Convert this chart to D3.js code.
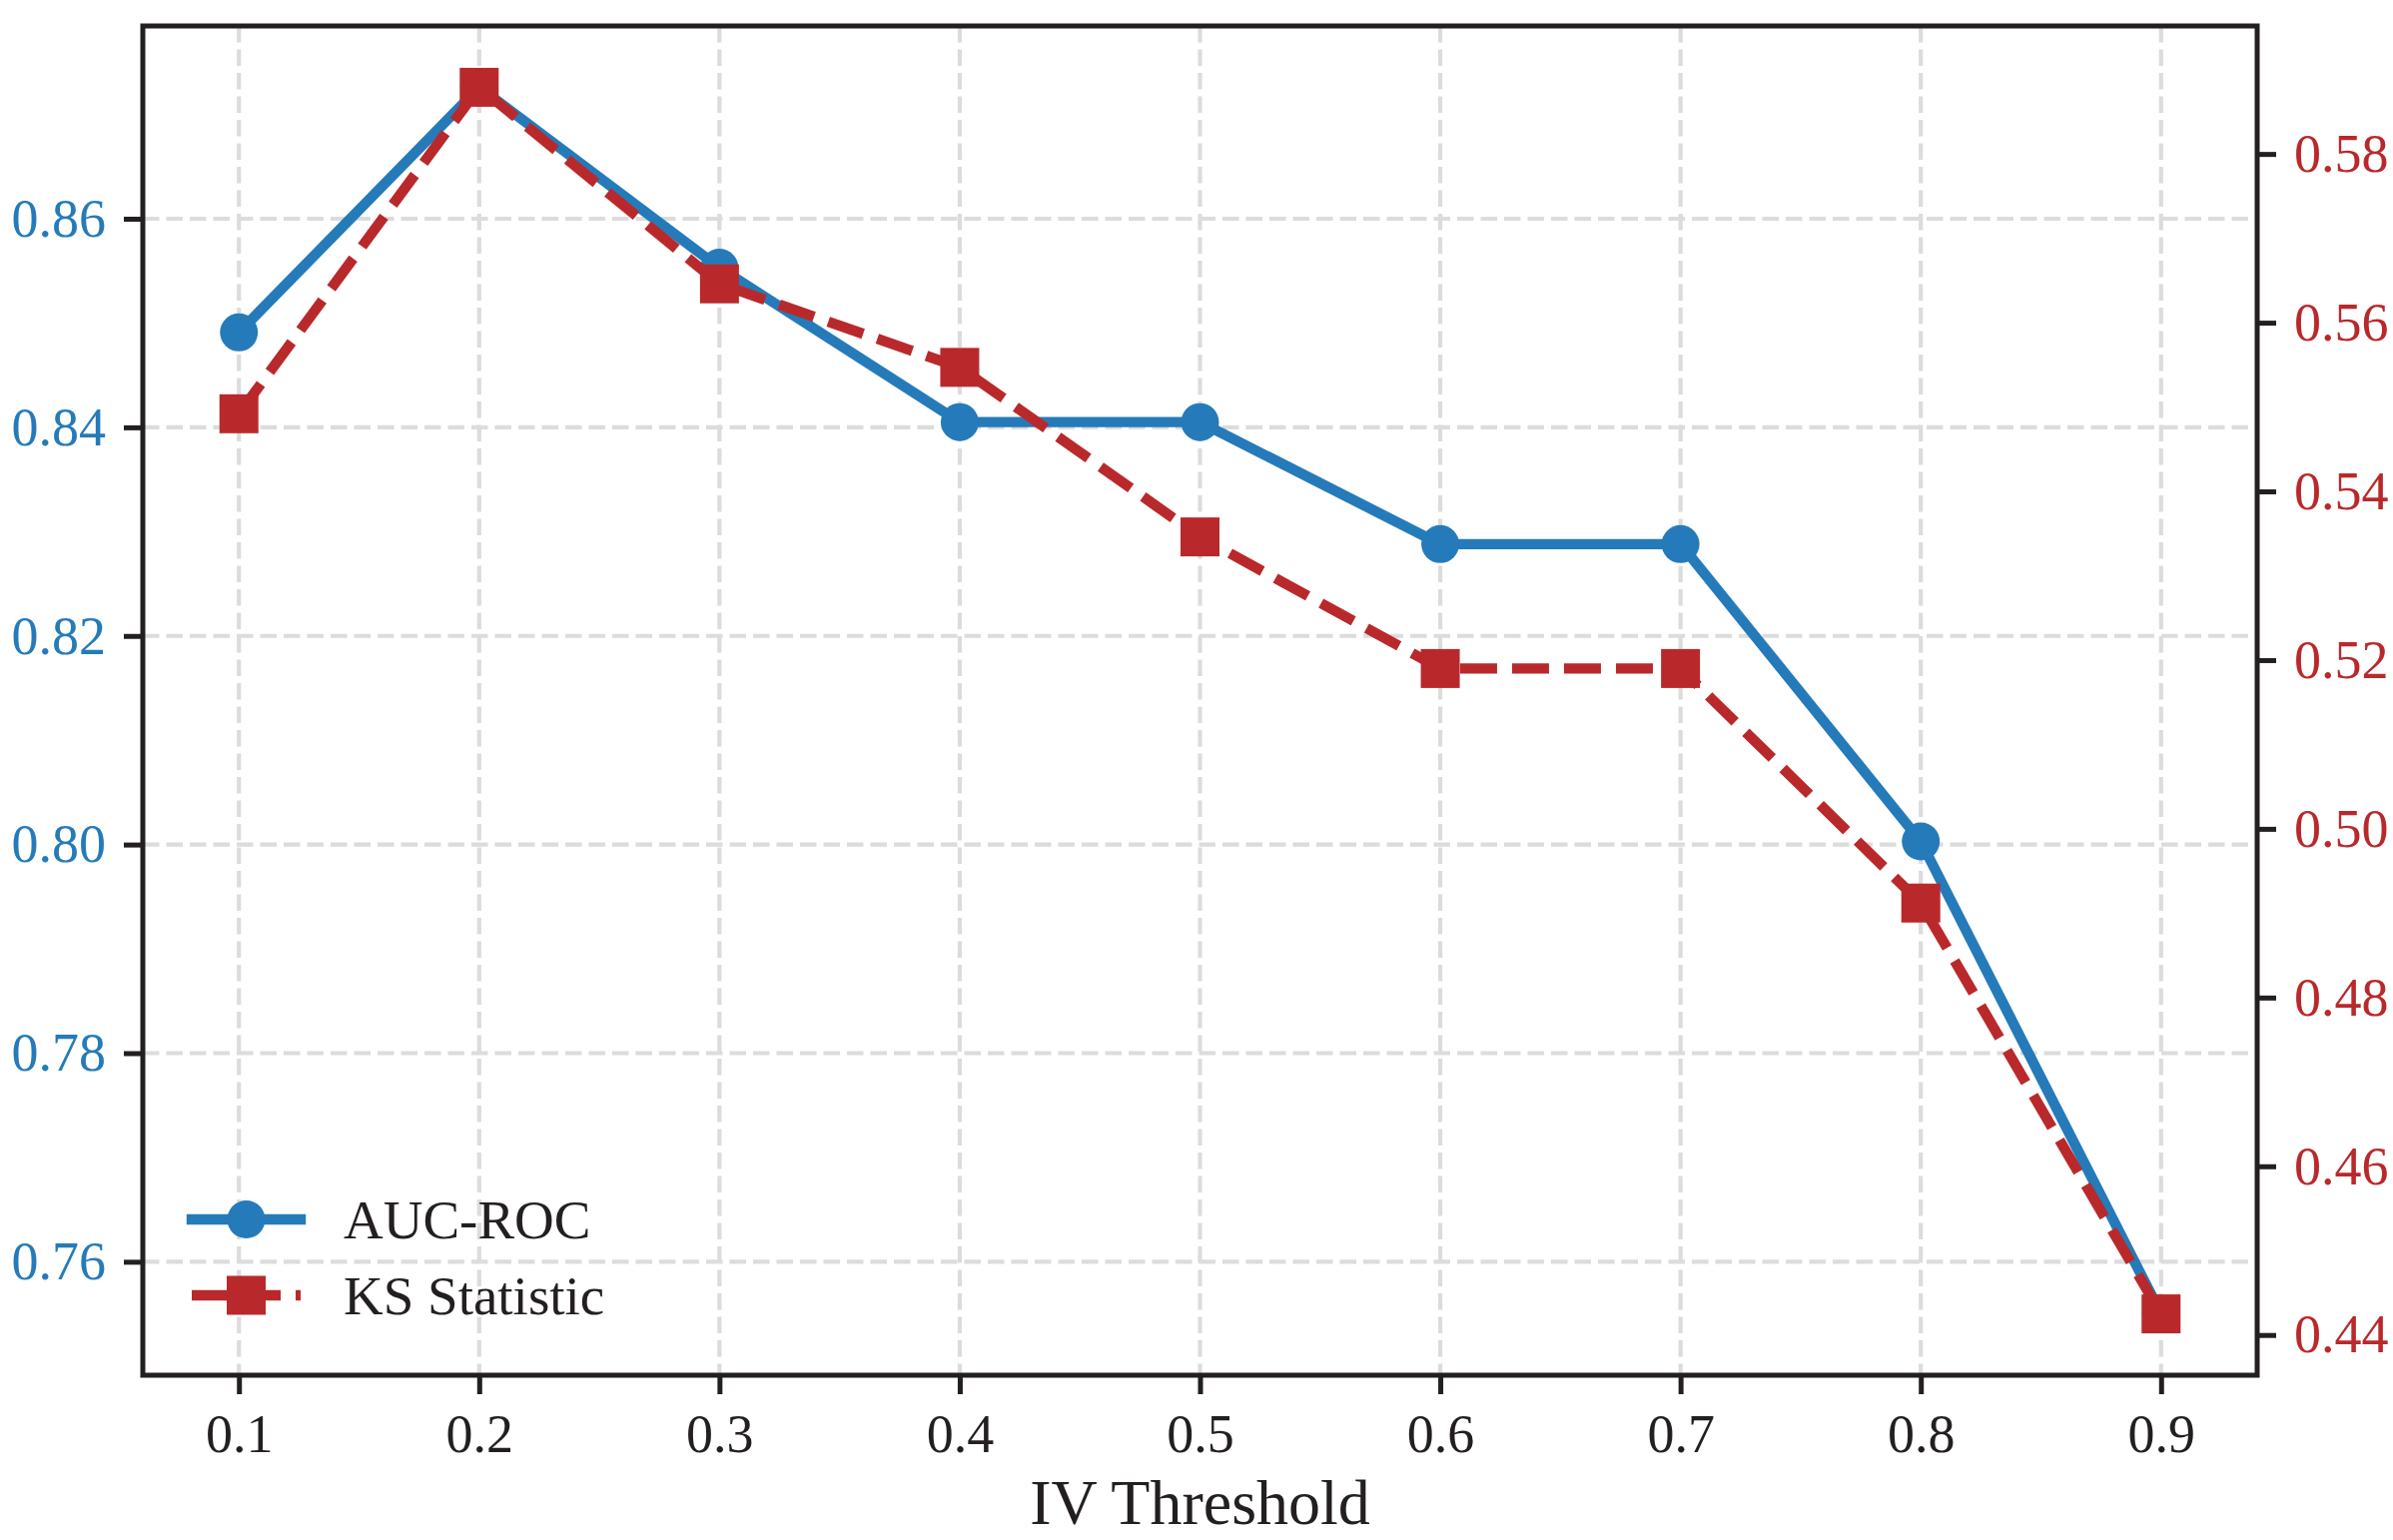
<!DOCTYPE html>
<html>
<head>
<meta charset="utf-8">
<script src="https://cdn.jsdelivr.net/npm/d3@7"></script>
<style>
  html, body { margin: 0; padding: 0; background: #fff; }
  svg { display: block; }
  text { font-family: "Liberation Serif", "Times New Roman", serif; }
</style>
</head>
<body>
<svg id="chart" width="2396" height="1542"></svg>
<script>
// 数据：IV 阈值对应的 AUC-ROC 与 KS
const thresholds = [0.1, 0.2, 0.3, 0.4, 0.5, 0.6, 0.7, 0.8, 0.9];
const aucRoc = [0.8491, 0.8726, 0.8553, 0.8405, 0.8405, 0.8288, 0.8288, 0.8003, 0.7550];
const ksStat = [0.5492, 0.5879, 0.5646, 0.5547, 0.5346, 0.5190, 0.5190, 0.4912, 0.4425];
const leftTicks = [0.76, 0.78, 0.80, 0.82, 0.84, 0.86];
const rightTicks = [0.44, 0.46, 0.48, 0.50, 0.52, 0.54, 0.56, 0.58];
const seriesNames = ['AUC-ROC', 'KS Statistic'];

const BLUE = '#257bb9', RED = '#b9292b', INK = '#231f20', GRID = '#dcdcdc';

const W = 2396, H = 1542;
const m = {left: 143, right: W - 2260, top: 26, bottom: H - 1377};
const iw = W - m.left - m.right, ih = H - m.top - m.bottom;

// matplotlib 默认 5% 边距
function padded(vals){
  const lo = d3.min(vals), hi = d3.max(vals), s = hi - lo;
  return [lo - s*0.05, hi + s*0.05];
}

const x = d3.scaleLinear().domain(padded(thresholds)).range([0, iw]);
const yL = d3.scaleLinear().domain(padded(aucRoc)).range([ih, 0]);
const yR = d3.scaleLinear().domain(padded(ksStat)).range([ih, 0]);

const svg = d3.select('#chart');
const g = svg.append('g').attr('transform', `translate(${m.left},${m.top})`);

// 网格（仅左轴）
const grid = g.append('g').attr('class', 'grid');
grid.selectAll('line.v').data(thresholds).enter().append('line')
  .attr('x1', d => x(d)).attr('x2', d => x(d)).attr('y1', 0).attr('y2', ih)
  .attr('stroke', GRID).attr('stroke-width', 4.2).attr('stroke-dasharray', '16.5,7');
grid.selectAll('line.h').data(leftTicks).enter().append('line')
  .attr('y1', d => yL(d)).attr('y2', d => yL(d)).attr('x1', 0).attr('x2', iw)
  .attr('stroke', GRID).attr('stroke-width', 4.2).attr('stroke-dasharray', '16.5,7');

// 折线
const lineL = d3.line().x((d, i) => x(thresholds[i])).y(d => yL(d));
const lineR = d3.line().x((d, i) => x(thresholds[i])).y(d => yR(d));

g.append('path').datum(aucRoc).attr('d', lineL)
  .attr('fill', 'none').attr('stroke', BLUE).attr('stroke-width', 10.4)
  .attr('stroke-linejoin', 'round').attr('stroke-linecap', 'square');
g.selectAll('circle.auc').data(aucRoc).enter().append('circle')
  .attr('cx', (d, i) => x(thresholds[i])).attr('cy', d => yL(d)).attr('r', 19)
  .attr('fill', BLUE);

g.append('path').datum(ksStat).attr('d', lineR)
  .attr('fill', 'none').attr('stroke', RED).attr('stroke-width', 10.4)
  .attr('stroke-linejoin', 'round').attr('stroke-dasharray', '37,15');
g.selectAll('rect.ks').data(ksStat).enter().append('rect')
  .attr('x', (d, i) => x(thresholds[i]) - 19.5).attr('y', d => yR(d) - 19.5)
  .attr('width', 39).attr('height', 39).attr('fill', RED);

// 坐标轴
function styleAxis(sel, color){
  sel.select('.domain').remove();
  sel.selectAll('.tick line').attr('stroke', INK).attr('stroke-width', 5);
  sel.selectAll('.tick text').attr('fill', color).style('font-size', '54px')
    .style('font-family', '"Liberation Serif", "Times New Roman", serif');
}

const xAxis = g.append('g').attr('transform', `translate(0,${ih})`)
  .call(d3.axisBottom(x).tickValues(thresholds).tickFormat(d3.format('.1f')).tickSize(19).tickPadding(20));
styleAxis(xAxis, INK);

const leftAxis = g.append('g')
  .call(d3.axisLeft(yL).tickValues(leftTicks).tickFormat(d3.format('.2f')).tickSize(19).tickPadding(18));
styleAxis(leftAxis, BLUE);

const rightAxis = g.append('g').attr('transform', `translate(${iw},0)`)
  .call(d3.axisRight(yR).tickValues(rightTicks).tickFormat(d3.format('.2f')).tickSize(19).tickPadding(18));
styleAxis(rightAxis, RED);

// 边框
g.append('rect').attr('x', 0).attr('y', 0).attr('width', iw).attr('height', ih)
  .attr('fill', 'none').attr('stroke', INK).attr('stroke-width', 5);

// x 轴标题
g.append('text').attr('x', iw/2).attr('y', 1526 - m.top)
  .attr('text-anchor', 'middle').attr('fill', INK).style('font-size', '64px')
  .text('IV Threshold');

// 图例（左下角）
const legend = g.append('g').attr('transform', `translate(${192 - m.left},0)`);
const rows = [
  {name: seriesNames[0], color: BLUE, cy: 1221 - m.top, dash: null, shape: 'circle'},
  {name: seriesNames[1], color: RED, cy: 1297 - m.top, dash: '37,15', shape: 'square'}
];
rows.forEach(r => {
  const row = legend.append('g');
  row.append('line').attr('x1', 0).attr('x2', 109).attr('y1', r.cy).attr('y2', r.cy)
    .attr('stroke', r.color).attr('stroke-width', 10.4)
    .attr('stroke-linecap', r.dash ? 'butt' : 'square')
    .attr('stroke-dasharray', r.dash);
  if(r.shape === 'circle'){
    row.append('circle').attr('cx', 54.5).attr('cy', r.cy).attr('r', 19).attr('fill', r.color);
  } else {
    row.append('rect').attr('x', 35).attr('y', r.cy - 19.5).attr('width', 39).attr('height', 39).attr('fill', r.color);
  }
  row.append('text').attr('x', 152).attr('y', r.cy).attr('dy', '0.34em')
    .attr('fill', INK).style('font-size', '55px').text(r.name);
});
</script>
</body>
</html>
